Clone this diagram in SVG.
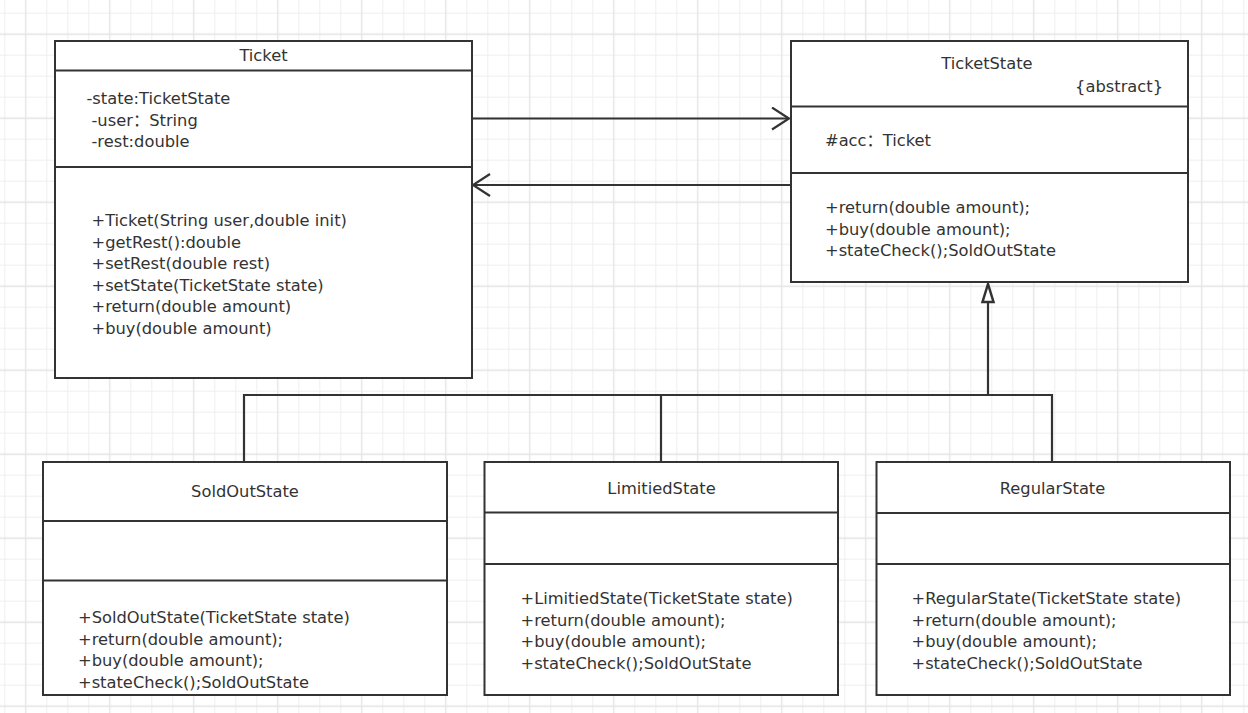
<svg xmlns="http://www.w3.org/2000/svg" width="1248" height="713" viewBox="0 0 1248 713">
<style>
.box{fill:#fff;stroke:#333;stroke-width:2}
.div{stroke:#333;stroke-width:2;fill:none}
.t{font-family:"DejaVu Sans","Noto Sans CJK SC",sans-serif;font-size:16.3px;fill:#333;white-space:pre}
.c{text-anchor:middle}
.ln{stroke:#333;stroke-width:2.2;fill:none}
</style>
<defs>
<pattern id="grid" patternUnits="userSpaceOnUse" x="4.3" y="12.7" width="84" height="84">
<path d="M0.5 0V84M42.5 0V84M63.5 0V84M0 0.5H84M0 42.5H84M0 63.5H84" stroke="#efefef" stroke-width="1" fill="none"/>
<path d="M21.5 0V84M0 21.5H84" stroke="#e3e3e3" stroke-width="1.3" fill="none"/>
</pattern>
<marker id="open" markerWidth="20" markerHeight="26" refX="18" refY="12" orient="auto" markerUnits="userSpaceOnUse">
<path d="M1 1L18 12L1 23" fill="none" stroke="#333" stroke-width="2.2"/>
</marker>
</defs>
<rect width="1248" height="713" fill="#fff"/>
<rect width="1248" height="713" fill="url(#grid)"/>

<g id="connectors">
<path class="ln" d="M472 118.5H789" marker-end="url(#open)"/>
<path class="ln" d="M792 172V185H473" marker-end="url(#open)"/>
<path class="ln" d="M988 302V395" stroke-width="3"/>
<path class="ln" d="M244 461V395H1052V461M661 395V461"/>
<path d="M988 284L982.5 302H993.5Z" fill="#fff" stroke="#333" stroke-width="2.5" stroke-linejoin="miter"/>
</g>

<g id="Ticket">
<rect class="box" x="55" y="41" width="417" height="337"/>
<path class="div" d="M55 70.5H472M55 167H472"/>
<text class="t c" x="263.5" y="61">Ticket</text>
<text class="t" x="86.5" y="104">-state:TicketState</text>
<text class="t" x="91.5" y="125.5">-user：String</text>
<text class="t" x="91.5" y="147">-rest:double</text>
<text class="t" x="91.5" y="226">+Ticket(String user,double init)</text>
<text class="t" x="91.5" y="247.5">+getRest():double</text>
<text class="t" x="91.5" y="269">+setRest(double rest)</text>
<text class="t" x="91.5" y="290.5">+setState(TicketState state)</text>
<text class="t" x="91.5" y="312">+return(double amount)</text>
<text class="t" x="91.5" y="333.5">+buy(double amount)</text>
</g>

<g id="TicketState">
<rect class="box" x="791" y="41" width="397" height="241"/>
<path class="div" d="M791 106.5H1188M791 173H1188"/>
<text class="t c" x="987" y="69">TicketState</text>
<text class="t" x="1163" y="92" text-anchor="end">{abstract}</text>
<text class="t" x="825" y="146">#acc：Ticket</text>
<text class="t" x="825" y="213">+return(double amount);</text>
<text class="t" x="825" y="234.5">+buy(double amount);</text>
<text class="t" x="825" y="256">+stateCheck();SoldOutState</text>
</g>

<g id="SoldOutState">
<rect class="box" x="43" y="462" width="404" height="233"/>
<path class="div" d="M43 521H447M43 580.5H447"/>
<text class="t c" x="245" y="497">SoldOutState</text>
<text class="t" x="78" y="623">+SoldOutState(TicketState state)</text>
<text class="t" x="78" y="644.5">+return(double amount);</text>
<text class="t" x="78" y="666">+buy(double amount);</text>
<text class="t" x="78" y="687.5">+stateCheck();SoldOutState</text>
</g>

<g id="LimitiedState">
<rect class="box" x="484.5" y="462" width="353.5" height="233"/>
<path class="div" d="M484.5 512.5H838M484.5 564H838"/>
<text class="t c" x="661.5" y="494">LimitiedState</text>
<text class="t" x="520.5" y="604">+LimitiedState(TicketState state)</text>
<text class="t" x="520.5" y="625.5">+return(double amount);</text>
<text class="t" x="520.5" y="647">+buy(double amount);</text>
<text class="t" x="520.5" y="668.5">+stateCheck();SoldOutState</text>
</g>

<g id="RegularState">
<rect class="box" x="876.5" y="462" width="353.5" height="233"/>
<path class="div" d="M876.5 513H1230M876.5 564H1230"/>
<text class="t c" x="1052.5" y="494">RegularState</text>
<text class="t" x="911.5" y="604">+RegularState(TicketState state)</text>
<text class="t" x="911.5" y="625.5">+return(double amount);</text>
<text class="t" x="911.5" y="647">+buy(double amount);</text>
<text class="t" x="911.5" y="668.5">+stateCheck();SoldOutState</text>
</g>
</svg>
